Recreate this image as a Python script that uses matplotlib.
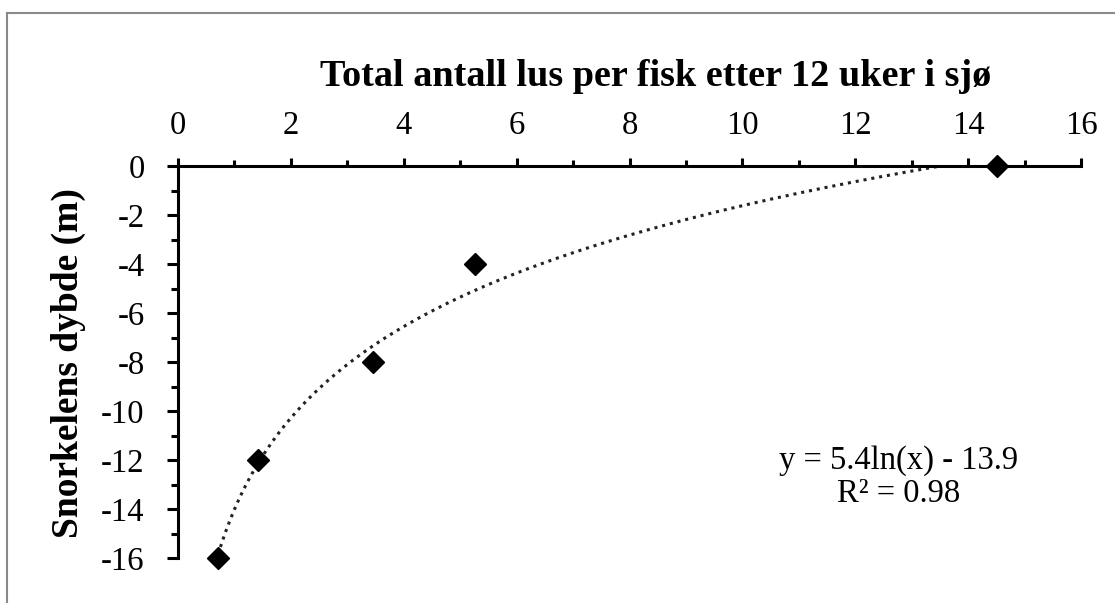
import numpy as np
import matplotlib
matplotlib.use("Agg")
import matplotlib.pyplot as plt
from matplotlib.lines import Line2D
from matplotlib.ticker import MultipleLocator

# Data
lice = [0.71, 1.42, 3.46, 5.27, 14.52]
depth = [-16, -12, -8, -4, 0]
x_ticks = [0, 2, 4, 6, 8, 10, 12, 14, 16]
y_ticks = [0, -2, -4, -6, -8, -10, -12, -14, -16]
title = "Total antall lus per fisk etter 12 uker i sjø"
ylabel = "Snorkelens dybde (m)"
eq_text = "y = 5.4ln(x) - 13.9\nR² = 0.98"

plt.rcParams['font.family'] = ['Liberation Serif', 'DejaVu Serif']
plt.rcParams['axes.unicode_minus'] = False

W, H = 1115, 603
fig = plt.figure(figsize=(W/100, H/100), dpi=100)
ax = fig.add_axes([178/W, 1-558/H, (1081-178)/W, (558-166)/H])

# logarithmic trendline fitted to the data
a, b = np.polyfit(np.log(lice), depth, 1)
xs = np.linspace(min(lice), max(lice), 400)
ax.plot(xs, a*np.log(xs) + b, color='#222222', lw=2.2,
        linestyle=(0, (1, 1.6)), dash_capstyle='butt')

ax.plot(lice, depth, linestyle='none', marker='D', ms=11.5,
        color='black', clip_on=False, zorder=5)

ax.set_xlim(0, 16)
ax.set_ylim(-16, 0)
ax.set_xticks(x_ticks)
ax.set_yticks(y_ticks)
ax.xaxis.set_minor_locator(MultipleLocator(1))
ax.yaxis.set_minor_locator(MultipleLocator(1))

for s in ['right', 'bottom']:
    ax.spines[s].set_visible(False)
for s in ['left', 'top']:
    ax.spines[s].set_linewidth(2.2)
    ax.spines[s].set_color('black')

ax.xaxis.set_ticks_position('top')
ax.xaxis.set_label_position('top')
ax.tick_params(axis='x', which='major', direction='out', length=6, width=2.2,
               labelsize=23.5, pad=12)
ax.tick_params(axis='x', which='minor', direction='out', length=4.5, width=2.2)
ax.tick_params(axis='y', which='major', direction='out', length=8, width=2.2,
               labelsize=23.5, pad=16)
ax.tick_params(axis='y', which='minor', direction='out', length=5, width=2.2)

fig.text(656/W, 1-86/H, title, ha='center', va='baseline',
         fontsize=27.5, fontweight='bold')
fig.text(68/W, 1-363/H, ylabel, ha='center', va='center', rotation=90,
         fontsize=27, fontweight='bold')
ax.text(899/W, 1-502/H, eq_text, transform=fig.transFigure, ha='center',
        va='baseline', fontsize=23.5, linespacing=1.12)

# chart frame (left and top edges visible)
fig.add_artist(Line2D([7/W, 7/W], [0, 1-12.5/H], transform=fig.transFigure,
                      color='#8a8a8a', lw=1.5))
fig.add_artist(Line2D([7/W, 1], [1-12.5/H, 1-12.5/H], transform=fig.transFigure,
                      color='#8a8a8a', lw=1.5))

fig.savefig('out.png', dpi=100)
